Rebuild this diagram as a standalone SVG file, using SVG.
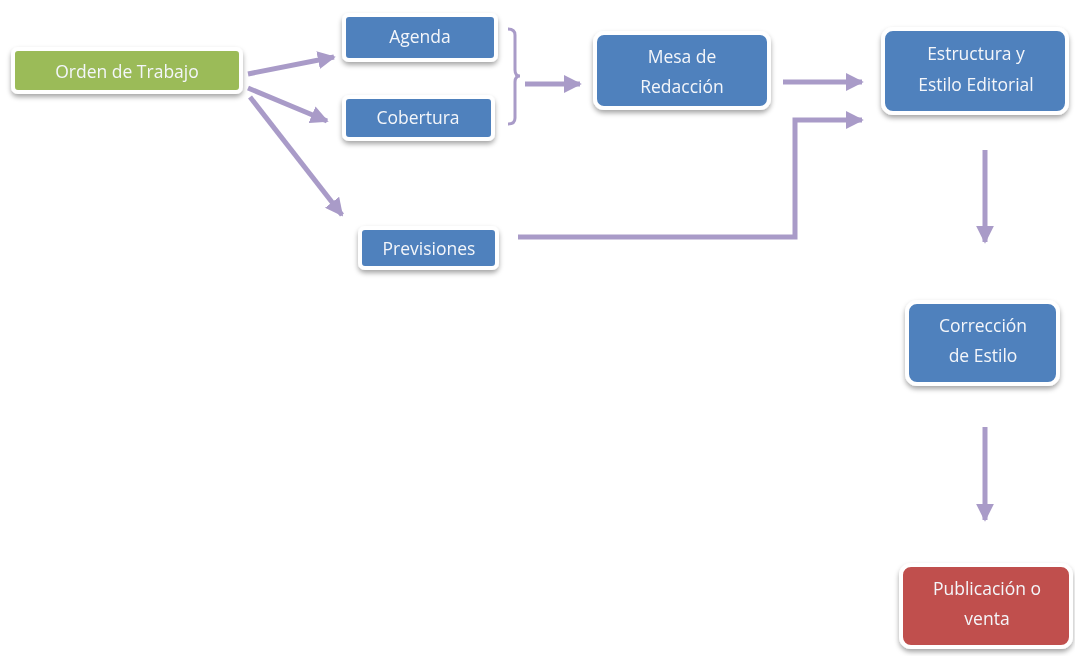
<svg xmlns="http://www.w3.org/2000/svg" width="1075" height="656" viewBox="0 0 1075 656">
<style>
.box{stroke:#fff;stroke-width:4}
.blue{fill:#4F81BD}
.green{fill:#9BBB59}
.red{fill:#C0504D}
.t{font-family:"Open Sans","Liberation Sans",sans-serif;font-size:17.5px;fill:#F4F6FA;text-anchor:middle}
.c{fill:none;stroke:#A99BC8;stroke-width:5}
</style>
<defs>
<filter id="sh" x="-20%" y="-20%" width="140%" height="160%">
<feDropShadow dx="0" dy="3" stdDeviation="2.5" flood-color="#000" flood-opacity="0.35"/>
</filter>
<marker id="ah" viewBox="0 0 10 10" refX="9" refY="5" markerWidth="3.6" markerHeight="3.6" orient="auto" markerUnits="strokeWidth">
<path d="M0,0 L10,5 L0,10 z" fill="#A99BC8"/>
</marker>
</defs>
<rect width="1075" height="656" fill="#fff"/>
<g id="connectors">
<path class="c" d="M248,74 L334,57" marker-end="url(#ah)"/>
<path class="c" d="M248,88 L327,121" marker-end="url(#ah)"/>
<path class="c" d="M250,97 L342,215" marker-end="url(#ah)"/>
<path class="c" d="M508,29 Q515,29 515,35 L515,70 Q515,76 520,76 Q515,76 515,82 L515,118 Q515,124 508,124" style="stroke-width:3"/>
<path class="c" d="M525,84 L580,84" marker-end="url(#ah)"/>
<path class="c" d="M783,82 L862,82" marker-end="url(#ah)"/>
<path class="c" d="M518,237 L795,237 L795,120 L862,120" marker-end="url(#ah)"/>
<path class="c" d="M985,150 L985,242" marker-end="url(#ah)"/>
<path class="c" d="M985,427 L985,520" marker-end="url(#ah)"/>
</g>
<g id="orden" filter="url(#sh)">
<rect class="box green" x="13" y="49" width="228" height="43" rx="5"/>
<text class="t" x="127" y="78">Orden de Trabajo</text>
</g>
<g id="agenda" filter="url(#sh)">
<rect class="box blue" x="344" y="15" width="152" height="45" rx="5"/>
<text class="t" x="420" y="43">Agenda</text>
</g>
<g id="cobertura" filter="url(#sh)">
<rect class="box blue" x="344" y="97" width="149" height="42" rx="5"/>
<text class="t" x="418" y="124">Cobertura</text>
</g>
<g id="previsiones" filter="url(#sh)">
<rect class="box blue" x="360" y="228" width="137" height="40" rx="5"/>
<text class="t" x="429" y="255">Previsiones</text>
</g>
<g id="mesa" filter="url(#sh)">
<rect class="box blue" x="595" y="33" width="174" height="75" rx="9"/>
<text class="t" x="682" y="63">Mesa de</text>
<text class="t" x="682" y="93">Redacción</text>
</g>
<g id="estructura" filter="url(#sh)">
<rect class="box blue" x="883" y="29" width="184" height="84" rx="10"/>
<text class="t" x="976" y="60">Estructura y</text>
<text class="t" x="976" y="91">Estilo Editorial</text>
</g>
<g id="correccion" filter="url(#sh)">
<rect class="box blue" x="907" y="302" width="151" height="82" rx="10"/>
<text class="t" x="983" y="332">Corrección</text>
<text class="t" x="983" y="362">de Estilo</text>
</g>
<g id="publicacion" filter="url(#sh)">
<rect class="box red" x="901" y="565" width="170" height="82" rx="10"/>
<text class="t" x="987" y="595">Publicación o</text>
<text class="t" x="987" y="625">venta</text>
</g>
</svg>
